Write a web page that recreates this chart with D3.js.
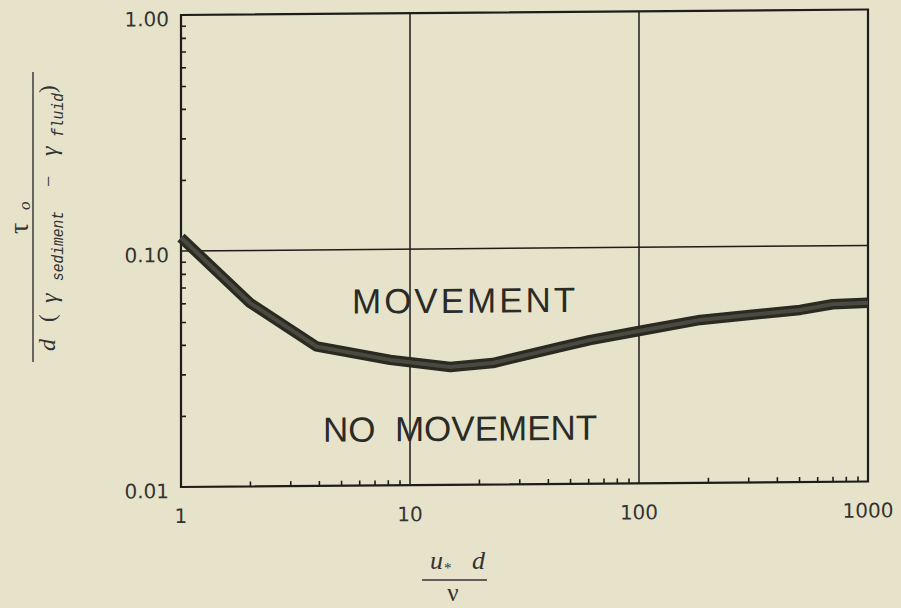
<!DOCTYPE html>
<html>
<head>
<meta charset="utf-8">
<script src="https://cdn.jsdelivr.net/npm/d3@7/dist/d3.min.js"></script>
<style>
  html, body { margin: 0; padding: 0; background: #e6e3ca; }
  svg { display: block; }
</style>
</head>
<body>
<svg id="chart" width="901" height="608"></svg>
<script>
// ---- data ----
const reynolds = [1, 2, 3.9, 8.2, 15, 23, 45, 61, 100, 185, 505, 700, 1000];
const shields  = [0.114, 0.060, 0.039, 0.034, 0.0316, 0.0327, 0.038, 0.0406, 0.0442, 0.049, 0.0536, 0.0565, 0.0572];
const xTickValues = [1, 10, 100, 1000];
const xTickLabels = ["1", "10", "100", "1000"];
const yTickValues = [0.01, 0.1, 1];
const yTickLabels = ["0.01", "0.10", "1.00"];
const xGrid = [10, 100];
const yGrid = [0.1];
const regionLabels = ["MOVEMENT", "NO  MOVEMENT"];

(function () {
const svg = d3.select("#chart");
svg.append("rect").attr("width", 901).attr("height", 608).attr("fill", "#e6e3ca");

const pL = 181, pR = 868, pT = 15, pB = 487;
const x = d3.scaleLog().domain([1, 1000]).range([pL, pR]);
const y = d3.scaleLog().domain([0.01, 1]).range([pB, pT]);

// slight scan skew of the original
const g = svg.append("g").attr("transform", `translate(${pL},0) skewY(-0.46) translate(${-pL},0)`);

const ink = "#1d1d1a";

// minor ticks
const xMinor = [];
for (let d = 1; d < 1000; d *= 10) for (let k = 2; k <= 9; k++) xMinor.push(d * k);
const yMinor = [];
for (let d = 0.01; d < 0.9; d *= 10) for (let k = 2; k <= 9; k++) yMinor.push(d * k);

const xAxis = g.append("g").attr("transform", `translate(0,${pB})`)
  .call(d3.axisBottom(x).tickValues(xMinor).tickSize(-5).tickFormat(""));
const yAxis = g.append("g").attr("transform", `translate(${pL},0)`)
  .call(d3.axisLeft(y).tickValues(yMinor).tickSize(-5).tickFormat(""));
[xAxis, yAxis].forEach(a => {
  a.select(".domain").remove();
  a.selectAll(".tick line").attr("stroke", ink).attr("stroke-width", 1.6);
});

// grid
g.selectAll(".vgrid").data(xGrid).enter().append("line")
  .attr("x1", d => x(d)).attr("x2", d => x(d)).attr("y1", pT).attr("y2", pB)
  .attr("stroke", ink).attr("stroke-width", 1.5);
g.selectAll(".hgrid").data(yGrid).enter().append("line")
  .attr("x1", pL).attr("x2", pR).attr("y1", d => y(d)).attr("y2", d => y(d))
  .attr("stroke", ink).attr("stroke-width", 1.5);

// frame
g.append("rect").attr("x", pL).attr("y", pT).attr("width", pR - pL).attr("height", pB - pT)
  .attr("fill", "none").attr("stroke", ink).attr("stroke-width", 2.2);

// tick labels
g.selectAll(".xl").data(xTickValues).enter().append("text")
  .attr("x", d => x(d)).attr("y", pB + 36)
  .attr("text-anchor", "middle")
  .attr("font-family", "DejaVu Sans, sans-serif").attr("font-size", 20)
  .attr("fill", "#333").text((d, i) => xTickLabels[i]);
g.selectAll(".yl").data(yTickValues).enter().append("text")
  .attr("x", pL - 12).attr("y", d => y(d) + 11)
  .attr("text-anchor", "end")
  .attr("font-family", "DejaVu Sans, sans-serif").attr("font-size", 20)
  .attr("fill", "#333").text((d, i) => yTickLabels[i]);

// curve
const line = d3.line().x((d, i) => x(reynolds[i])).y(d => y(d)).curve(d3.curveLinear);
g.append("path").attr("d", line(shields)).attr("fill", "none")
  .attr("stroke", "#2a2a22").attr("stroke-width", 10.5).attr("stroke-linejoin", "round");
g.append("path").attr("d", line(shields)).attr("fill", "none")
  .attr("stroke", "#4a4a40").attr("stroke-width", 4).attr("stroke-linejoin", "round");

// region labels
g.append("text").attr("x", 352).attr("y", 315)
  .attr("font-family", "Liberation Sans, Arial, sans-serif").attr("font-size", 35)
  .attr("letter-spacing", 3).attr("fill", "#2a2a26").text(regionLabels[0]);
g.append("text").attr("x", 323).attr("y", 443)
  .attr("font-family", "Liberation Sans, Arial, sans-serif").attr("font-size", 35)
  .attr("fill", "#2a2a26").style("white-space", "pre").text(regionLabels[1]);

// y-axis title (fraction), rotated: local x = -screen y
const serif = "Liberation Serif, serif", mono = "Liberation Mono, monospace";
const yt = svg.append("g");
yt.append("line").attr("x1", 33).attr("x2", 33).attr("y1", 72).attr("y2", 362)
  .attr("stroke", "#333").attr("stroke-width", 1.4);
const num = yt.append("text").attr("transform", "translate(28,0) rotate(-90)").attr("fill", "#333");
num.append("tspan").attr("x", -234).attr("font-family", serif).attr("font-size", 28).text("τ");
num.append("tspan").attr("x", -210).attr("dy", 2).attr("font-family", serif)
  .attr("font-style", "italic").attr("font-size", 17).text("o");

const den = yt.append("g").attr("transform", "translate(55,0) rotate(-90)").attr("fill", "#333");
const piece = (txt, sx, len, fam, size, italic, dy) => {
  const t = den.append("text").attr("x", -sx).attr("y", dy)
    .attr("font-family", fam).attr("font-size", size)
    .attr("font-style", italic ? "italic" : "normal").text(txt);
  if (len) t.attr("textLength", len).attr("lengthAdjust", "spacingAndGlyphs");
};
piece("d", 351, 0, serif, 24, true, 0);
piece("(", 322, 0, serif, 23, false, 0);
piece("γ", 303, 0, serif, 24, true, 2);
piece("sediment", 281, 70, mono, 16, true, 8);
piece("−", 187, 0, serif, 20, false, 0);
piece("γ", 156, 0, serif, 24, true, 2);
piece("fluid", 137, 44, mono, 16, true, 8);
piece(")", 93, 0, serif, 23, false, 0);

// x-axis title (fraction)
const xt = svg.append("g");
const xnum = xt.append("text").attr("x", 430).attr("y", 569).attr("fill", "#333");
xnum.append("tspan").attr("font-family", serif).attr("font-style", "italic").attr("font-size", 26).text("u");
xnum.append("tspan").attr("font-family", serif).attr("font-size", 15).attr("dy", 4).attr("dx", 1).text("*");
xnum.append("tspan").attr("font-family", serif).attr("font-style", "italic").attr("font-size", 26).attr("x", 472).attr("dy", -4).text("d");
xt.append("line").attr("x1", 422).attr("x2", 487).attr("y1", 580).attr("y2", 580)
  .attr("stroke", "#333").attr("stroke-width", 1.4);
xt.append("text").attr("x", 453).attr("y", 601).attr("text-anchor", "middle")
  .attr("font-family", serif).attr("font-size", 25).attr("fill", "#333").text("ν");
})();
</script>
</body>
</html>
